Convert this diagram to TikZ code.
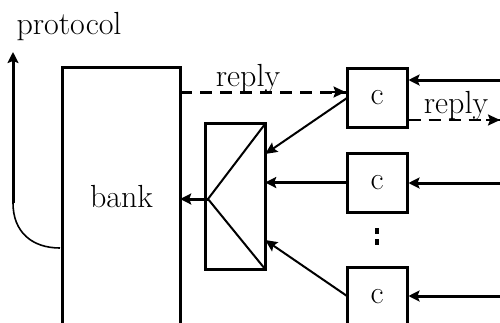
\documentclass[tikz,border=0pt]{standalone}
\usetikzlibrary{arrows.meta,calc}
\begin{document}
\begin{tikzpicture}[x=1pt,y=-1pt,
  every node/.style={font=\fontsize{32}{38}\selectfont},
  box/.style={draw=none,inner sep=0pt,shape=rectangle},
  frame/.style={line width=3pt},
  arr/.style={line width=3pt,-{Stealth[length=11pt,width=11pt,inset=2pt]}},
  darr/.style={line width=2pt,-{Stealth[length=12pt,width=11pt,inset=2pt]}},
  dashline/.style={line width=3pt,dash pattern=on 12pt off 8pt},
  thinline/.style={line width=1.6pt}]
\useasboundingbox (0,0) rectangle (500,322);
\clip (0,0) rectangle (500,322);
% nodes
\node[box,minimum width=117pt,minimum height=258pt] (bank) at (121.5,197) {bank};
\node[box,minimum width=59pt,minimum height=145pt] (merge) at (235.5,196.5) {};
\node[box,minimum width=60pt,minimum height=59pt,draw,frame] (c1) at (377,97.5) {c};
\node[box,minimum width=60pt,minimum height=59pt,draw,frame] (c2) at (377,182.5) {c};
\node[box,minimum width=60pt,minimum height=59pt,draw,frame] (c3) at (377,296.5) {c};
\node[inner sep=0pt] (proto) at (69,27) {protocol};
% bank frame (open at bottom)
\draw[frame] (bank.south west) -- (bank.north west) -- (bank.north east) -- (bank.south east);
% merge frame
\draw[frame] (merge.north west) rectangle (merge.south east);
\coordinate (v) at (208,199);
\draw[line width=2pt] (merge.north east) -- (v) -- (merge.south east);
% protocol arrow
\coordinate (pb) at (13,203);
\coordinate (pt) at (13,52);
\coordinate (pc) at (60,248);
\draw[arr] (pb) -- (pt);
\draw[thinline] (pb) .. controls (13,232) and (32,248) .. (pc);
% merge to bank
\draw[arr] (v) -- (v -| bank.east);
% reply from bank to c1
\coordinate (r1) at (180,92);
\draw[dashline] (r1) -- (r1 -| c1.west);
\draw[line width=2pt,-{Stealth[length=12pt,width=11pt,inset=2pt]}] ($(r1 -| c1.west)+(-14,0)$) -- (r1 -| c1.west);
\node[inner sep=0pt] (rl1) at (248,79) {reply};
% inputs from right
\coordinate (i1) at (500,80);
\coordinate (i2) at (500,183);
\coordinate (i3) at (500,296);
\draw[arr] (i1) -- (i1 -| c1.east);
\draw[arr] (i2) -- (i2 -| c2.east);
\draw[arr] (i3) -- (i3 -| c3.east);
% reply out from c1
\coordinate (ro) at (500,120);
\draw[line width=2pt,dash pattern=on 12pt off 8pt] (ro -| c1.east) -- (ro);
\draw[line width=2pt,-{Stealth[length=12pt,width=11pt,inset=2pt]}] ($(ro)+(-14,0)$) -- (ro);
\node[inner sep=0pt] (rl2) at (456,106) {reply};
% c's into merge
\coordinate (a1) at (347,98);
\coordinate (a3) at (347,296);
\draw[darr] (a1) -- (merge.east |- 0,154);
\draw[arr] (c2.west) -- (c2.west -| merge.east);
\draw[darr] (a3) -- (merge.east |- 0,240);
% dots
\fill (375,228) rectangle (379,234);
\fill (375,239) rectangle (379,245);
\end{tikzpicture}
\end{document}
